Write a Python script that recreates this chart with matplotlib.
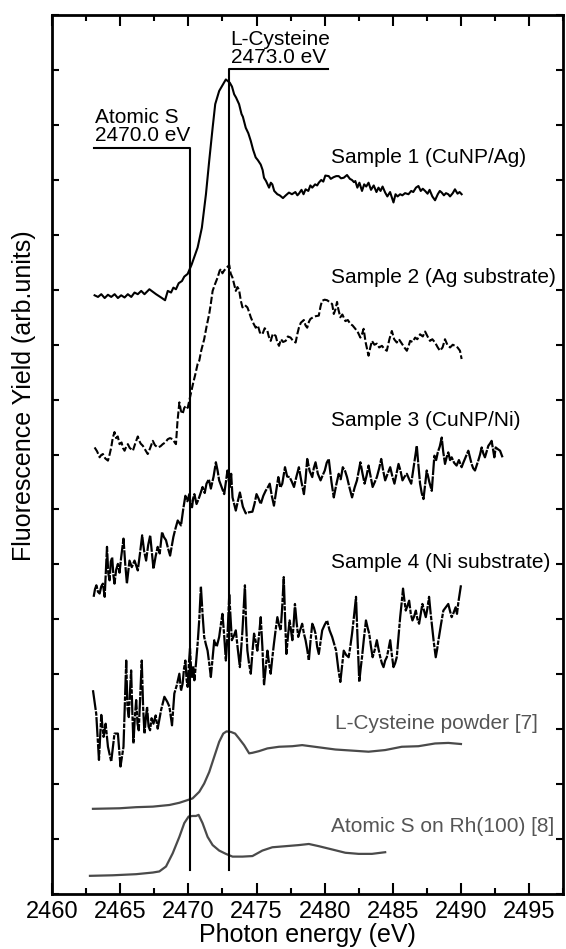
import numpy as np
import matplotlib.pyplot as plt
from matplotlib.ticker import MultipleLocator, NullFormatter

plt.rcParams['font.family'] = ['Liberation Sans', 'DejaVu Sans']

# Sample 1 (CuNP/Ag) - linea continua
s1_x = [2463.12, 2463.37, 2463.61, 2463.86, 2464.10, 2464.34, 2464.59, 2464.83, 2465.07, 2465.32,
        2465.56, 2465.81, 2466.05, 2466.29, 2466.54, 2466.78, 2467.14, 2467.63, 2468.00, 2468.29,
        2468.49, 2468.73, 2468.90, 2469.09, 2469.29, 2469.53, 2469.70, 2469.95, 2470.24, 2470.68,
        2470.99, 2471.29, 2471.53, 2471.78, 2471.97, 2472.26, 2472.75, 2473.04, 2473.20, 2473.36,
        2473.50, 2473.72, 2473.90, 2474.00, 2474.21, 2474.40, 2474.58, 2474.75, 2474.94, 2475.10,
        2475.31, 2475.45, 2475.55, 2475.70, 2475.92, 2476.05, 2476.16, 2476.30, 2476.53, 2476.70,
        2476.94, 2477.15, 2477.38, 2477.60, 2477.85, 2478.00, 2478.11, 2478.30, 2478.45, 2478.60,
        2478.80, 2478.95, 2479.09, 2479.30, 2479.45, 2479.57, 2479.75, 2479.90, 2480.05, 2480.30,
        2480.45, 2480.65, 2480.85, 2481.03, 2481.20, 2481.40, 2481.64, 2481.85, 2482.00, 2482.15,
        2482.25, 2482.40, 2482.55, 2482.74, 2482.90, 2483.05, 2483.22, 2483.40, 2483.60, 2483.80,
        2483.95, 2484.10, 2484.25, 2484.44, 2484.60, 2484.80, 2485.05, 2485.20, 2485.35, 2485.54,
        2485.70, 2485.90, 2486.15, 2486.35, 2486.50, 2486.70, 2486.88, 2487.05, 2487.20, 2487.37,
        2487.55, 2487.70, 2487.90, 2488.10, 2488.30, 2488.45, 2488.59, 2488.75, 2488.90, 2489.07,
        2489.20, 2489.40, 2489.56, 2489.75, 2489.90, 2490.05]
s1_y = [10.90, 10.87, 10.92, 10.85, 10.91, 10.87, 10.92, 10.85, 10.90, 10.86,
        10.92, 10.87, 10.95, 10.92, 10.98, 10.92, 11.01, 10.92, 10.86, 10.81,
        10.98, 10.95, 11.04, 11.01, 11.12, 11.16, 11.24, 11.29, 11.46, 11.77,
        12.13, 12.74, 13.35, 13.95, 14.38, 14.62, 14.83, 14.77, 14.70, 14.56,
        14.50, 14.38, 14.20, 14.15, 13.95, 13.85, 13.71, 13.55, 13.41, 13.36,
        13.28, 13.18, 13.04, 12.98, 12.86, 12.95, 12.92, 12.80, 12.74, 12.72,
        12.67, 12.72, 12.77, 12.74, 12.78, 12.72, 12.75, 12.82, 12.74, 12.83,
        12.80, 12.90, 12.86, 12.92, 12.90, 12.95, 13.00, 12.97, 13.08, 13.07,
        13.02, 13.05, 13.07, 13.07, 13.03, 13.04, 13.09, 13.02, 13.00, 12.96,
        12.98, 12.86, 12.95, 12.80, 12.92, 12.88, 12.95, 12.82, 12.90, 12.78,
        12.86, 12.80, 12.88, 12.77, 12.70, 12.78, 12.59, 12.74, 12.70, 12.74,
        12.72, 12.76, 12.74, 12.80, 12.78, 12.86, 12.89, 12.80, 12.84, 12.80,
        12.75, 12.82, 12.70, 12.63, 12.74, 12.80, 12.77, 12.72, 12.76, 12.74,
        12.70, 12.76, 12.83, 12.75, 12.78, 12.74]

# Sample 2 (Ag substrate) - tratteggiata
s2_x = [2463.12, 2463.30, 2463.49, 2463.60, 2463.73, 2463.90, 2464.10, 2464.22, 2464.34, 2464.45,
        2464.58, 2464.70, 2464.82, 2464.95, 2465.10, 2465.20, 2465.32, 2465.45, 2465.56, 2465.70,
        2465.80, 2465.93, 2466.10, 2466.29, 2466.40, 2466.50, 2466.66, 2466.80, 2467.02, 2467.20,
        2467.39, 2467.55, 2467.75, 2467.95, 2468.12, 2468.30, 2468.49, 2468.65, 2468.85, 2469.00,
        2469.09, 2469.20, 2469.34, 2469.45, 2469.58, 2469.70, 2469.83, 2469.95, 2470.12, 2470.36,
        2470.50, 2470.68, 2470.80, 2470.95, 2471.16, 2471.35, 2471.53, 2471.65, 2471.78, 2471.95,
        2472.14, 2472.30, 2472.40, 2472.50, 2472.62, 2472.80, 2473.00, 2473.10, 2473.24, 2473.36,
        2473.48, 2473.60, 2473.72, 2473.85, 2473.97, 2474.15, 2474.33, 2474.45, 2474.58, 2474.75,
        2474.94, 2475.10, 2475.25, 2475.43, 2475.60, 2475.80, 2475.90, 2476.04, 2476.20, 2476.41,
        2476.52, 2476.65, 2476.80, 2476.95, 2477.14, 2477.30, 2477.50, 2477.65, 2477.87, 2478.00,
        2478.11, 2478.25, 2478.47, 2478.60, 2478.72, 2478.85, 2478.96, 2479.15, 2479.35, 2479.57,
        2479.70, 2479.81, 2480.00, 2480.18, 2480.35, 2480.55, 2480.67, 2480.80, 2480.91, 2481.00,
        2481.15, 2481.30, 2481.52, 2481.70, 2481.88, 2482.05, 2482.25, 2482.45, 2482.62, 2482.75,
        2482.86, 2483.00, 2483.22, 2483.35, 2483.47, 2483.65, 2483.83, 2484.00, 2484.20, 2484.40,
        2484.56, 2484.75, 2484.93, 2485.10, 2485.29, 2485.45, 2485.66, 2485.85, 2486.03, 2486.15,
        2486.27, 2486.45, 2486.64, 2486.80, 2487.00, 2487.20, 2487.37, 2487.55, 2487.73, 2487.90,
        2488.10, 2488.30, 2488.46, 2488.65, 2488.83, 2489.00, 2489.20, 2489.40, 2489.56, 2489.75,
        2489.93, 2490.05]
s2_y = [8.13, 8.06, 7.95, 7.99, 8.01, 7.93, 7.89, 8.00, 8.13, 8.30,
        8.41, 8.30, 8.33, 8.19, 8.22, 8.12, 8.07, 8.15, 8.19, 8.12,
        8.10, 8.07, 8.20, 8.33, 8.25, 8.20, 8.16, 8.10, 8.01, 8.12,
        8.25, 8.17, 8.13, 8.15, 8.19, 8.22, 8.28, 8.30, 8.28, 8.22,
        8.19, 8.60, 8.95, 8.80, 8.74, 8.85, 8.89, 8.85, 9.04, 9.31,
        9.45, 9.65, 9.71, 9.90, 10.10, 10.35, 10.56, 10.75, 10.98, 11.10,
        11.22, 11.35, 11.38, 11.30, 11.35, 11.40, 11.45, 11.30, 11.22, 11.10,
        10.98, 11.05, 11.00, 10.80, 10.68, 10.72, 10.68, 10.60, 10.50, 10.40,
        10.31, 10.35, 10.22, 10.19, 10.30, 10.25, 10.15, 10.07, 10.20, 10.16,
        10.05, 9.98, 10.10, 10.05, 10.07, 10.15, 10.13, 10.08, 10.04, 10.20,
        10.31, 10.40, 10.45, 10.35, 10.31, 10.42, 10.47, 10.50, 10.52, 10.53,
        10.70, 10.80, 10.82, 10.81, 10.78, 10.74, 10.56, 10.65, 10.78, 10.65,
        10.50, 10.55, 10.43, 10.45, 10.38, 10.35, 10.29, 10.22, 10.13, 10.20,
        10.29, 10.05, 9.80, 9.95, 10.07, 10.00, 10.02, 9.95, 9.98, 9.92,
        9.89, 10.10, 10.25, 10.10, 10.04, 10.10, 10.02, 9.95, 9.89, 9.97,
        10.07, 10.05, 10.13, 10.10, 10.19, 10.15, 10.24, 10.15, 10.07, 10.10,
        10.04, 9.95, 9.89, 9.95, 10.10, 10.00, 9.95, 10.00, 9.98, 9.95,
        9.89, 9.74]

# Sample 3 (CuNP/Ni)
s3_x = [2463.05, 2463.15, 2463.25, 2463.37, 2463.49, 2463.61, 2463.73, 2463.86, 2464.03, 2464.12,
        2464.22, 2464.31, 2464.41, 2464.50, 2464.58, 2464.70, 2464.83, 2464.95, 2465.07, 2465.24,
        2465.37, 2465.49, 2465.68, 2465.85, 2466.05, 2466.29, 2466.45, 2466.61, 2466.75, 2466.90,
        2467.05, 2467.20, 2467.44, 2467.60, 2467.75, 2467.90, 2468.07, 2468.20, 2468.36, 2468.50,
        2468.66, 2468.90, 2469.05, 2469.22, 2469.46, 2469.62, 2469.78, 2469.93, 2470.07, 2470.17,
        2470.27, 2470.35, 2470.44, 2470.60, 2470.75, 2470.90, 2471.04, 2471.20, 2471.33, 2471.50,
        2471.65, 2471.85, 2472.02, 2472.15, 2472.26, 2472.45, 2472.63, 2472.75, 2472.87, 2472.95,
        2473.04, 2473.14, 2473.24, 2473.36, 2473.48, 2473.63, 2473.78, 2474.00, 2474.21, 2474.45,
        2474.70, 2474.85, 2475.00, 2475.15, 2475.31, 2475.50, 2475.67, 2475.82, 2475.97, 2476.12,
        2476.28, 2476.45, 2476.60, 2476.75, 2476.89, 2477.09, 2477.25, 2477.43, 2477.60, 2477.75,
        2477.93, 2478.11, 2478.30, 2478.48, 2478.60, 2478.72, 2478.90, 2479.09, 2479.20, 2479.33,
        2479.50, 2479.70, 2479.85, 2480.01, 2480.15, 2480.30, 2480.50, 2480.67, 2480.85, 2481.03,
        2481.18, 2481.33, 2481.50, 2481.64, 2481.82, 2482.01, 2482.20, 2482.37, 2482.50, 2482.62,
        2482.78, 2482.93, 2483.08, 2483.22, 2483.37, 2483.52, 2483.68, 2483.83, 2484.00, 2484.15,
        2484.30, 2484.44, 2484.62, 2484.81, 2484.97, 2485.12, 2485.27, 2485.42, 2485.57, 2485.71,
        2485.87, 2486.03, 2486.20, 2486.35, 2486.55, 2486.76, 2486.88, 2487.00, 2487.12, 2487.25,
        2487.37, 2487.49, 2487.68, 2487.86, 2488.05, 2488.18, 2488.30, 2488.45, 2488.59, 2488.70,
        2488.83, 2488.95, 2489.07, 2489.20, 2489.32, 2489.50, 2489.68, 2489.85, 2490.05, 2490.17,
        2490.29, 2490.42, 2490.54, 2490.66, 2490.78, 2490.90, 2491.03, 2491.15, 2491.27, 2491.40,
        2491.52, 2491.64, 2491.76, 2491.88, 2492.01, 2492.13, 2492.25, 2492.35, 2492.45, 2492.55,
        2492.70, 2492.87, 2493.05]
s3_y = [5.41, 5.55, 5.62, 5.50, 5.47, 5.60, 5.65, 5.41, 6.32, 5.85,
        5.71, 6.05, 6.13, 5.80, 5.65, 5.90, 6.01, 5.85, 6.13, 6.47,
        6.00, 5.65, 6.07, 5.95, 6.07, 5.89, 6.20, 6.53, 6.25, 6.07,
        6.35, 6.53, 5.92, 6.15, 6.32, 6.20, 6.59, 6.50, 6.44, 6.30,
        6.16, 6.50, 6.65, 6.80, 6.71, 7.00, 7.25, 7.15, 7.28, 7.10,
        7.04, 7.20, 7.28, 7.10, 7.19, 7.30, 7.41, 7.30, 7.47, 7.55,
        7.38, 7.60, 7.86, 7.70, 7.53, 7.40, 7.28, 7.50, 7.71, 7.55,
        7.41, 7.65, 7.22, 7.10, 6.98, 7.15, 7.31, 7.05, 6.93, 6.95,
        6.96, 7.10, 7.28, 7.20, 7.10, 7.25, 7.34, 7.40, 7.47, 7.25,
        7.07, 7.35, 7.59, 7.40, 7.47, 7.77, 7.60, 7.59, 7.50, 7.41,
        7.60, 7.77, 7.50, 7.28, 7.55, 7.92, 7.70, 7.59, 7.75, 7.86,
        7.65, 7.53, 7.62, 7.71, 7.85, 7.92, 7.50, 7.22, 7.45, 7.65,
        7.55, 7.77, 7.70, 7.59, 7.40, 7.22, 7.40, 7.53, 7.70, 7.86,
        7.65, 7.47, 7.62, 7.80, 7.60, 7.41, 7.50, 7.59, 7.75, 7.92,
        7.70, 7.53, 7.65, 7.77, 7.60, 7.47, 7.65, 7.83, 7.70, 7.53,
        7.60, 7.65, 7.55, 7.47, 7.80, 8.16, 7.80, 7.47, 7.30, 7.19,
        7.45, 7.71, 7.50, 7.34, 7.98, 7.90, 8.04, 8.15, 8.31, 8.05,
        7.83, 7.95, 8.04, 7.90, 7.95, 7.85, 7.80, 7.90, 7.77, 7.85,
        7.92, 8.00, 8.07, 7.95, 7.83, 7.75, 7.71, 7.80, 7.89, 8.00,
        8.13, 8.02, 7.95, 8.05, 8.16, 8.20, 8.25, 8.10, 7.95, 8.13,
        8.10, 8.07, 7.95]

# Sample 4 (Ni substrate)
s4_x = [2463.00, 2463.24, 2463.44, 2463.61, 2463.78, 2463.93, 2464.10, 2464.34, 2464.58, 2464.83,
        2465.02, 2465.24, 2465.44, 2465.53, 2465.63, 2465.72, 2465.80, 2465.89, 2465.97, 2466.07,
        2466.17, 2466.27, 2466.36, 2466.47, 2466.58, 2466.68, 2466.78, 2466.88, 2466.97, 2467.08,
        2467.19, 2467.30, 2467.44, 2467.60, 2467.75, 2468.00, 2468.24, 2468.45, 2468.61, 2468.80,
        2468.97, 2469.15, 2469.34, 2469.46, 2469.58, 2469.68, 2469.78, 2469.87, 2469.95, 2470.04,
        2470.12, 2470.20, 2470.27, 2470.35, 2470.44, 2470.56, 2470.68, 2470.80, 2470.92, 2471.04,
        2471.16, 2471.28, 2471.41, 2471.53, 2471.65, 2471.78, 2471.90, 2472.08, 2472.26, 2472.38,
        2472.50, 2472.63, 2472.75, 2472.87, 2473.00, 2473.10, 2473.19, 2473.34, 2473.48, 2473.63,
        2473.78, 2473.97, 2474.15, 2474.24, 2474.33, 2474.45, 2474.58, 2474.70, 2474.82, 2474.94,
        2475.06, 2475.18, 2475.31, 2475.43, 2475.55, 2475.67, 2475.80, 2475.92, 2476.04, 2476.16,
        2476.28, 2476.40, 2476.53, 2476.65, 2476.77, 2476.88, 2477.00, 2477.10, 2477.19, 2477.31,
        2477.43, 2477.53, 2477.63, 2477.72, 2477.82, 2477.94, 2478.06, 2478.20, 2478.35, 2478.47,
        2478.60, 2478.72, 2478.84, 2478.96, 2479.09, 2479.21, 2479.33, 2479.45, 2479.57, 2479.70,
        2479.82, 2480.00, 2480.18, 2480.36, 2480.55, 2480.70, 2480.84, 2481.00, 2481.15, 2481.28,
        2481.40, 2481.58, 2481.76, 2481.88, 2482.01, 2482.15, 2482.30, 2482.42, 2482.54, 2482.64,
        2482.74, 2482.88, 2483.03, 2483.15, 2483.27, 2483.40, 2483.52, 2483.68, 2483.83, 2483.96,
        2484.08, 2484.20, 2484.32, 2484.44, 2484.56, 2484.68, 2484.81, 2484.93, 2485.05, 2485.17,
        2485.29, 2485.42, 2485.54, 2485.65, 2485.75, 2485.85, 2485.95, 2486.08, 2486.20, 2486.32,
        2486.44, 2486.56, 2486.69, 2486.81, 2486.93, 2487.05, 2487.17, 2487.30, 2487.42, 2487.54,
        2487.66, 2487.76, 2487.86, 2488.00, 2488.15, 2488.25, 2488.35, 2488.53, 2488.71, 2488.89,
        2489.07, 2489.20, 2489.32, 2489.46, 2489.61, 2489.71, 2489.81, 2490.00]
s4_y = [3.71, 3.28, 2.44, 3.26, 2.86, 3.10, 2.68, 2.41, 2.92, 2.92,
        2.32, 2.68, 4.25, 3.40, 3.22, 3.70, 4.07, 3.30, 2.74, 3.20,
        3.53, 3.10, 2.98, 3.60, 4.25, 3.40, 2.92, 3.20, 3.41, 3.05,
        2.98, 3.20, 3.10, 3.25, 3.01, 3.35, 3.59, 3.50, 3.41, 3.07,
        3.65, 3.80, 4.01, 3.70, 3.83, 4.10, 4.25, 3.90, 3.77, 4.20,
        4.47, 4.10, 3.95, 4.15, 3.89, 4.20, 4.56, 5.00, 5.60, 5.10,
        4.68, 4.55, 4.43, 4.20, 3.95, 4.30, 4.62, 4.50, 4.68, 4.90,
        5.10, 4.70, 4.25, 4.70, 5.45, 5.00, 4.62, 4.70, 4.80, 4.45,
        4.13, 4.80, 5.62, 4.90, 4.43, 4.20, 4.01, 4.40, 4.74, 4.60,
        4.43, 4.70, 5.04, 4.50, 3.80, 4.10, 4.43, 4.20, 4.01, 4.30,
        4.56, 4.80, 5.04, 4.90, 4.80, 5.20, 5.77, 5.00, 4.37, 4.70,
        4.98, 4.80, 4.62, 4.90, 5.28, 4.95, 4.68, 4.80, 4.92, 4.75,
        4.62, 4.45, 4.25, 4.60, 4.92, 4.85, 4.74, 4.50, 4.37, 4.60,
        4.80, 4.90, 4.98, 4.80, 4.68, 4.55, 4.43, 4.10, 3.86, 4.15,
        4.43, 4.35, 4.31, 4.50, 4.74, 5.05, 5.41, 4.60, 3.86, 4.10,
        4.31, 4.65, 4.98, 4.85, 4.74, 4.50, 4.31, 4.45, 4.62, 4.45,
        4.31, 4.20, 4.13, 4.25, 4.31, 4.45, 4.62, 4.35, 4.13, 4.20,
        4.31, 4.70, 5.04, 5.30, 5.56, 5.35, 5.16, 5.25, 5.34, 5.10,
        4.98, 5.05, 5.16, 5.00, 4.92, 5.10, 5.28, 5.15, 5.04, 5.20,
        5.41, 5.15, 4.92, 4.60, 4.31, 4.45, 4.62, 4.90, 5.16, 5.22,
        5.28, 5.15, 5.04, 5.12, 5.22, 5.10, 5.31, 5.62]

# Riferimenti (grigio)
cys_x = [2463.00, 2464.95, 2466.17, 2467.39, 2468.61, 2469.34, 2469.83, 2470.31, 2470.80, 2471.16,
         2471.53, 2471.90, 2472.26, 2472.56, 2472.80, 2473.12, 2473.43, 2473.72, 2474.09, 2474.46,
         2474.70, 2475.18, 2475.80, 2476.65, 2477.63, 2478.35, 2479.57, 2480.79, 2482.01, 2483.22,
         2484.44, 2485.66, 2486.88, 2488.10, 2489.07, 2490.00]
cys_y = [1.55, 1.56, 1.58, 1.59, 1.62, 1.66, 1.70, 1.74, 1.86, 2.01,
         2.22, 2.50, 2.77, 2.92, 2.96, 2.95, 2.92, 2.83, 2.71, 2.56,
         2.57, 2.60, 2.65, 2.68, 2.69, 2.71, 2.67, 2.63, 2.61, 2.59,
         2.62, 2.68, 2.69, 2.74, 2.75, 2.73]

rh_x = [2462.78, 2464.46, 2466.17, 2467.39, 2467.87, 2468.36, 2468.85, 2469.34, 2469.70, 2470.02,
        2470.31, 2470.56, 2470.75, 2471.04, 2471.41, 2471.78, 2472.26, 2472.75, 2473.24, 2473.97,
        2474.70, 2475.43, 2476.16, 2477.14, 2478.11, 2478.84, 2479.57, 2480.55, 2481.52, 2482.49,
        2483.47, 2484.44]
rh_y = [0.33, 0.34, 0.36, 0.39, 0.41, 0.50, 0.74, 1.04, 1.29, 1.41,
        1.42, 1.42, 1.44, 1.29, 1.04, 0.89, 0.79, 0.73, 0.68, 0.68,
        0.69, 0.79, 0.85, 0.87, 0.89, 0.91, 0.87, 0.81, 0.75, 0.73,
        0.73, 0.76]

# Energie di riferimento (linee verticali)
e_atomic = 2470.1
e_cys = 2473.0

fig = plt.figure(figsize=(5.66, 9.49), dpi=100)
ax = fig.add_axes([0.092, 0.058, 0.903, 0.926])

ax.plot(s1_x, s1_y, color='black', lw=1.5)
ax.plot(s2_x, s2_y, color='black', lw=1.5, dashes=(3.5, 1.2))
ax.plot(s3_x, s3_y, color='black', lw=1.6, dashes=(7, 0.6))
ax.plot(s4_x, s4_y, color='black', lw=1.6, dashes=(9, 0.6, 2, 0.6))
ax.plot(cys_x, cys_y, color='#4a4a4a', lw=1.6)
ax.plot(rh_x, rh_y, color='#4a4a4a', lw=1.6)

# linee dei riferimenti
ax.plot([2463.1, e_atomic, e_atomic], [13.59, 13.59, 0.44], color='black', lw=1.5)
ax.plot([2480.24, e_cys, e_cys], [15.02, 15.02, 0.44], color='black', lw=1.5)
ax.text(2463.15, 13.63, 'Atomic S\n2470.0 eV', fontsize=15, ha='left', va='bottom', linespacing=0.95)
ax.text(2473.1, 15.06, 'L-Cysteine\n2473.0 eV', fontsize=15, ha='left', va='bottom', linespacing=0.95)

# etichette delle curve
ax.text(2480.5, 13.4, 'Sample 1 (CuNP/Ag)', fontsize=15, va='center')
ax.text(2480.5, 11.22, 'Sample 2 (Ag substrate)', fontsize=15, va='center')
ax.text(2480.5, 8.62, 'Sample 3 (CuNP/Ni)', fontsize=15, va='center')
ax.text(2480.5, 6.04, 'Sample 4 (Ni substrate)', fontsize=15, va='center')
ax.text(2480.78, 3.10, 'L-Cysteine powder [7]', fontsize=15, va='center', color='#555555')
ax.text(2480.5, 1.22, 'Atomic S on Rh(100) [8]', fontsize=15, va='center', color='#555555')

ax.set_xlim(2460, 2497.5)
ax.set_ylim(0, 16)
ax.xaxis.set_major_locator(MultipleLocator(5))
ax.xaxis.set_minor_locator(MultipleLocator(2.5))
ax.yaxis.set_major_locator(MultipleLocator(1))
ax.yaxis.set_major_formatter(NullFormatter())
ax.tick_params(axis='x', which='major', direction='in', length=8, width=1.5, top=True, labelsize=17, pad=5)
ax.tick_params(axis='x', which='minor', direction='in', length=4, width=1.5, top=True)
ax.tick_params(axis='y', which='major', direction='in', length=5, width=1.5, right=True)
for sp in ax.spines.values():
    sp.set_linewidth(2)

ax.set_xlabel('Photon energy (eV)', fontsize=18, labelpad=0)
ax.set_ylabel('Fluorescence Yield (arb.units)', fontsize=18)
ax.yaxis.set_label_coords(-0.032, 0.567)

plt.savefig('out.png', dpi=100)
